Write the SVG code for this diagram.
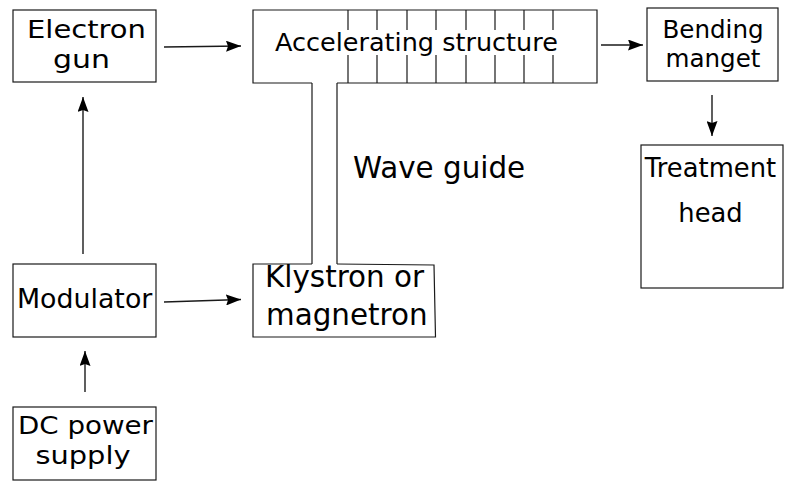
<svg xmlns="http://www.w3.org/2000/svg" width="785" height="481" viewBox="0 0 785 481">
<style>
.b{fill:none;stroke:#1a1a1a;stroke-width:1.2}
.c{fill:none;stroke:#1a1a1a;stroke-width:1.4}
text{font-family:"DejaVu Sans","Liberation Sans",sans-serif;fill:#000}
</style>
<defs>
<marker id="ah" viewBox="0 0 15 11" refX="15" refY="5.5" markerWidth="15" markerHeight="11" markerUnits="userSpaceOnUse" orient="auto">
<path d="M0,0 L15,5.5 L0,11 L2,5.5 Z" fill="#000"/>
</marker>
</defs>
<rect width="785" height="481" fill="#fff"/>
<g id="electron-gun">
<rect class="b" x="13" y="10" width="143" height="72"/>
<text x="27" y="37.8" font-size="25.6" textLength="119" lengthAdjust="spacingAndGlyphs">Electron</text>
<text x="53" y="67.6" font-size="25.6" textLength="57" lengthAdjust="spacingAndGlyphs">gun</text>
</g>
<g id="accelerating-structure">
<path class="b" d="M312,83 H253 V10 H597 V83 H337"/>
<path class="b" d="M348,10V30M377,10V30M407,10V30M436,10V30M466,10V30M495,10V30M524,10V30M553,10V30M348,55V83M377,55V83M407,55V83M436,55V83M466,55V83M495,55V83M524,55V83M553,55V83"/>
<text x="275" y="51" font-size="25.5">Accelerating structure</text>
</g>
<g id="bending-magnet">
<rect class="b" x="647" y="8" width="131" height="73"/>
<text font-size="24.6" text-anchor="middle"><tspan x="713" y="38">Bending</tspan><tspan x="713" y="67">manget</tspan></text>
</g>
<g id="treatment-head">
<rect class="b" x="641" y="145" width="142" height="143"/>
<text font-size="25.8" text-anchor="middle"><tspan x="710.5" y="177">Treatment</tspan><tspan x="710.5" y="222">head</tspan></text>
</g>
<g id="wave-guide">
<path class="b" d="M312,83 V264 M337,83 V264"/>
<text x="353" y="178" font-size="29.4">Wave guide</text>
</g>
<g id="klystron">
<path class="b" d="M312,264 H253 V337 H435.5 L434,265 L337,264"/>
<text font-size="29.4"><tspan x="265" y="287">Klystron or</tspan><tspan x="266" y="325">magnetron</tspan></text>
</g>
<g id="modulator">
<rect class="b" x="13" y="264" width="143" height="73"/>
<text x="17" y="308" font-size="26.8">Modulator</text>
</g>
<g id="dc-power-supply">
<rect class="b" x="13" y="407" width="143" height="73"/>
<text x="18" y="434.3" font-size="25.6" textLength="135" lengthAdjust="spacingAndGlyphs">DC power</text>
<text x="35.5" y="464.2" font-size="25.6" textLength="95" lengthAdjust="spacingAndGlyphs">supply</text>
</g>
<g id="connectors">
<path class="c" d="M164,47 L241,46" marker-end="url(#ah)"/>
<path class="c" d="M601,45 L643,45" marker-end="url(#ah)"/>
<path class="c" d="M712,95 V136" marker-end="url(#ah)"/>
<path class="c" d="M83,254 V97" marker-end="url(#ah)"/>
<path class="c" d="M164,302 L241,299.5" marker-end="url(#ah)"/>
<path class="c" d="M85,392 V351" marker-end="url(#ah)"/>
</g>
</svg>
